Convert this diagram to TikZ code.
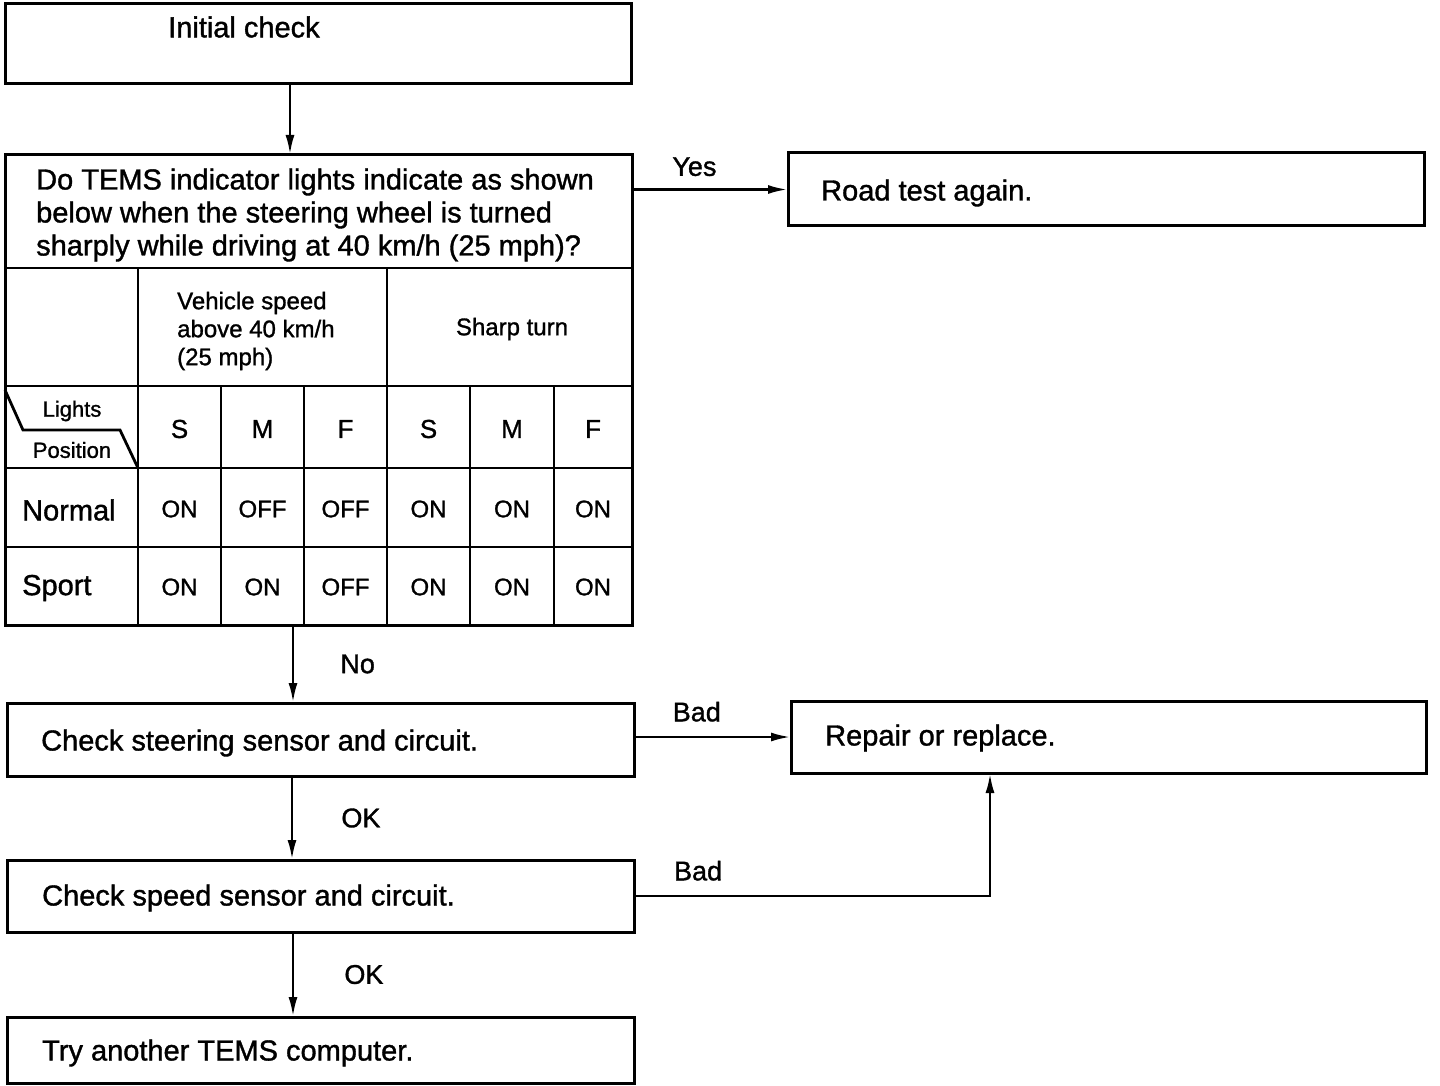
\documentclass[tikz,border=0pt]{standalone}
\usepackage{fontspec}
\setmainfont{Liberation Sans}[FakeBold=1.2]
\usetikzlibrary{arrows.meta}
\usetikzlibrary{calc}
\usetikzlibrary{positioning}

\begin{document}
\begin{tikzpicture}[x=1pt,y=-1pt,
	box/.style={draw,line width=3pt,rectangle,anchor=north west,inner sep=0pt,outer sep=0pt},
	txt/.style={anchor=west,inner sep=0pt,font=\fontsize{29}{33}\selectfont},
	cell/.style={inner sep=0pt,font=\fontsize{24}{28}\selectfont},
	lbl/.style={inner sep=0pt,font=\fontsize{27}{30}\selectfont},
	arr/.style={line width=2.8pt,-{Latex[length=20pt,width=9pt]}},
	grid/.style={line width=2.8pt}]
	\useasboundingbox (0,0) rectangle (1440,1086);
	
	% boxes
	\node[box,minimum width=626,minimum height=80] (init) at (5,4) {};
	\node[box,minimum width=627,minimum height=470] (quest) at (5,155) {};
	\node[box,minimum width=636,minimum height=73] (road) at (788,153) {};
	\node[box,minimum width=627,minimum height=73] (steer) at (7,703) {};
	\node[box,minimum width=635,minimum height=72] (repair) at (791,701) {};
	\node[box,minimum width=627,minimum height=72] (speed) at (7,860) {};
	\node[box,minimum width=627,minimum height=66] (try) at (7,1017) {};
	
	\node[txt] (inittxt) at (168,27) {Initial check};
	\node[txt,align=left] (questtxt) at (36,215) {Do TEMS indicator lights indicate as shown\\below when the steering wheel is turned\\sharply while driving at 40 km/h (25 mph)?};
	\node[txt] (roadtxt) at (821,193) {Road test again.};
	\node[txt] (steertxt) at (41,743) {Check steering sensor and circuit.};
	\node[txt] (repairtxt) at (825,738) {Repair or replace.};
	\node[txt] (speedtxt) at (42,898) {Check speed sensor and circuit.};
	\node[txt] (trytxt) at (42,1053) {Try another TEMS computer.};
	
	% table
	\foreach \y in {268,386,468,547}
		\draw[grid] (5,\y) -- (632,\y);
	\foreach \x in {138,387}
		\draw[grid] (\x,268) -- (\x,625);
	\foreach \x in {221,304,470,554}
		\draw[grid] (\x,386) -- (\x,625);
	\draw[grid] (5,390) -- (23,430) -- (120,430) -- (138,468);
	
	\node[cell,align=left,anchor=west] (vspeed) at (177,331) {Vehicle speed\\above 40 km/h\\(25 mph)};
	\node[cell] (sharp) at (512,329) {Sharp turn};
	\node[cell,font=\fontsize{22}{26}\selectfont] (lights) at (72,411) {Lights};
	\node[cell,font=\fontsize{22}{26}\selectfont] (posn) at (72,450) {Position};
	\foreach \t/\x [count=\i] in {S/179.5,M/262.5,F/345.5,S/428.5,M/512,F/593}
		\node[cell,font=\fontsize{26}{30}\selectfont] (hd\i) at (\x,429) {\t};
	\node[txt] (normal) at (22,510) {Normal};
	\node[txt] (sport) at (22,588) {Sport};
	\foreach \t/\x [count=\i] in {ON/179.5,OFF/262.5,OFF/345.5,ON/428.5,ON/512,ON/593}
		\node[cell] (nrm\i) at (\x,509) {\t};
	\foreach \t/\x [count=\i] in {ON/179.5,ON/262.5,OFF/345.5,ON/428.5,ON/512,ON/593}
		\node[cell] (spt\i) at (\x,587) {\t};
	
	% connectors
	\draw[arr] ([xshift=-28pt]init.south) coordinate (a1) -- (a1 |- quest.north);
	\draw[arr] (quest.east |- road.west) -- node[lbl,pos=0.4,above=12pt] (yes) {Yes} (road.west);
	\draw[arr] ([xshift=-25.5pt]quest.south) coordinate (a2) -- node[lbl,right=46pt] (no) {No} (a2 |- steer.north);
	\draw[arr] (steer.east |- repair.west) -- node[lbl,pos=0.4,above=14pt] (bad1) {Bad} (repair.west);
	\draw[arr] ([xshift=-28.5pt]steer.south) coordinate (a3) -- node[lbl,right=48pt] (ok1) {OK} (a3 |- speed.north);
	\draw[arr] (speed.east) -| node[lbl,pos=0.09,above=14pt] (bad2) {Bad} ([xshift=-118.5pt]repair.south);
	\draw[arr] ([xshift=-27.5pt]speed.south) coordinate (a4) -- node[lbl,right=50pt] (ok2) {OK} (a4 |- try.north);
\end{tikzpicture}
\end{document}
